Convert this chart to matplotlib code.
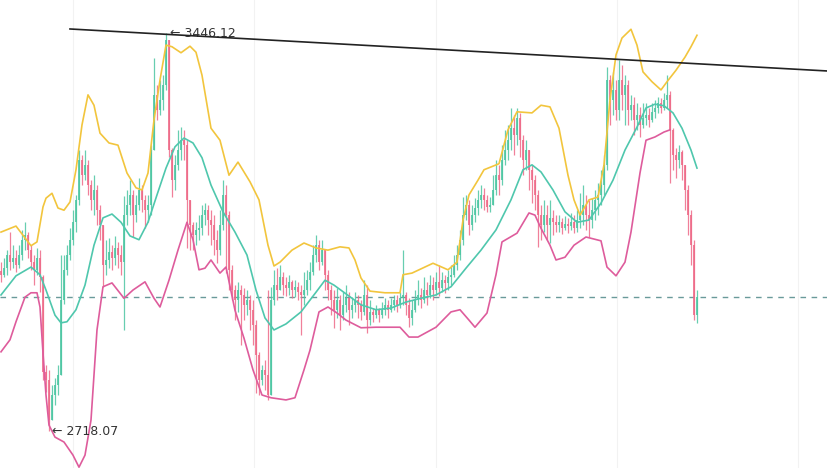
import matplotlib
matplotlib.use("Agg")
import matplotlib.pyplot as plt
import numpy as np

# candle data (price), one candle per bar, open = previous close
first_open = 3010
close = [3004, 3016, 3040, 3027, 3035, 3022, 3040, 3068, 3077, 3049,
         3027, 3013, 3035, 2999, 2826, 2811, 2738, 2784, 2802, 2821,
         2958, 3013, 3040, 3068, 3100, 3141, 3214, 3186, 3205, 3168,
         3141, 3159, 3122, 3095, 3022, 3031, 3045, 3035, 3053, 3040,
         3027, 3113, 3132, 3150, 3113, 3132, 3159, 3141, 3122, 3132,
         3232, 3333, 3305, 3324, 3351, 3433, 3232, 3177, 3205, 3232,
         3250, 3241, 3141, 3095, 3077, 3086, 3089, 3113, 3122, 3104,
         3095, 3068, 3049, 3095, 3150, 3113, 3013, 2976, 2958, 2976,
         2967, 2949, 2958, 2940, 2912, 2857, 2811, 2830, 2821, 2784,
         2958, 2985, 2976, 2999, 2985, 2980, 2991, 2976, 2981, 2972,
         2967, 2976, 2994, 3009, 3040, 3058, 3027, 3049, 3004, 2976,
         2958, 2940, 2958, 2930, 2949, 2961, 2940, 2949, 2958, 2949,
         2936, 2967, 2921, 2936, 2930, 2940, 2930, 2940, 2949, 2940,
         2949, 2958, 2949, 2961, 2967, 2949, 2925, 2940, 2958, 2967,
         2958, 2976, 2967, 2985, 2976, 2991, 2980, 2994, 2989, 2999,
         3004, 3022, 3040, 3068, 3113, 3132, 3095, 3113, 3126, 3141,
         3150, 3141, 3128, 3132, 3159, 3186, 3177, 3214, 3232, 3250,
         3272, 3260, 3290, 3250, 3214, 3232, 3196, 3177, 3150, 3113,
         3095, 3113, 3095, 3107, 3100, 3095, 3100, 3089, 3097, 3093,
         3100, 3089, 3104, 3113, 3132, 3113, 3104, 3122, 3141, 3150,
         3168, 3205, 3360, 3324, 3342, 3305, 3360, 3333, 3351, 3305,
         3314, 3287, 3296, 3278, 3290, 3296, 3287, 3302, 3309, 3318,
         3309, 3324, 3333, 3269, 3223, 3214, 3228, 3205, 3159, 3113,
         3058, 2930, 2963]
high = [3027, 3035, 3049, 3082, 3058, 3049, 3058, 3086, 3100, 3082,
        3058, 3040, 3053, 3049, 3003, 2839, 2830, 2802, 2815, 2839,
        3040, 3040, 3058, 3089, 3122, 3150, 3232, 3223, 3232, 3214,
        3177, 3186, 3168, 3132, 3095, 3068, 3071, 3058, 3075, 3064,
        3058, 3148, 3159, 3177, 3159, 3150, 3181, 3168, 3150, 3150,
        3241, 3401, 3351, 3360, 3369, 3446.12, 3433, 3235, 3223, 3269,
        3274, 3269, 3250, 3141, 3100, 3100, 3113, 3132, 3135, 3132,
        3122, 3113, 3086, 3122, 3177, 3168, 3120, 3022, 2985, 2991,
        2985, 2980, 2976, 2967, 2958, 2921, 2862, 2839, 2848, 2976,
        2981, 3013, 3016, 3022, 3009, 2999, 3004, 2994, 2994, 2991,
        2985, 3009, 3013, 3027, 3058, 3077, 3068, 3068, 3049, 3013,
        2985, 2976, 2980, 2967, 2972, 2985, 2972, 2963, 2972, 2967,
        2958, 2994, 2985, 2958, 2943, 2949, 2943, 2954, 2961, 2958,
        2961, 2967, 2967, 2972, 3049, 2972, 2961, 2958, 2976, 2994,
        2980, 2999, 2991, 3004, 3000, 3009, 3022, 3009, 3004, 3013,
        3022, 3040, 3058, 3086, 3146, 3150, 3141, 3132, 3144, 3159,
        3168, 3163, 3150, 3146, 3186, 3214, 3205, 3241, 3269, 3278,
        3309, 3296, 3309, 3300, 3260, 3250, 3232, 3205, 3186, 3159,
        3132, 3141, 3132, 3141, 3122, 3113, 3113, 3107, 3111, 3107,
        3117, 3113, 3122, 3154, 3168, 3150, 3141, 3144, 3159, 3172,
        3196, 3223, 3384, 3369, 3374, 3360, 3397, 3388, 3369, 3360,
        3333, 3329, 3318, 3311, 3318, 3318, 3309, 3318, 3324, 3329,
        3327, 3336, 3369, 3340, 3272, 3235, 3241, 3232, 3205, 3168,
        3122, 3068, 2976]
low = [2991, 2999, 3004, 3013, 3016, 3009, 3016, 3031, 3049, 3035,
       3013, 2985, 3004, 2972, 2811, 2789, 2718.07, 2738, 2766, 2784,
       2821, 2950, 3004, 3031, 3058, 3082, 3132, 3168, 3177, 3150,
       3122, 3113, 3095, 3068, 2981, 3004, 3016, 3013, 3022, 3016,
       3004, 2903, 3095, 3113, 3073, 3100, 3122, 3118, 3089, 3100,
       3113, 3232, 3287, 3296, 3305, 3342, 3219, 3146, 3159, 3196,
       3214, 3214, 3053, 3049, 3049, 3058, 3068, 3077, 3095, 3077,
       3058, 3040, 3025, 3040, 3086, 3007, 2976, 2958, 2921, 2936,
       2876, 2921, 2930, 2903, 2876, 2788, 2784, 2802, 2793, 2775,
       2784, 2949, 2958, 2976, 2967, 2965, 2967, 2961, 2963, 2958,
       2894, 2949, 2967, 2976, 3004, 3027, 3013, 3022, 2976, 2958,
       2930, 2907, 2925, 2903, 2921, 2936, 2912, 2925, 2936, 2925,
       2921, 2930, 2897, 2912, 2917, 2925, 2917, 2925, 2930, 2925,
       2936, 2940, 2936, 2943, 2949, 2930, 2908, 2912, 2936, 2949,
       2943, 2952, 2949, 2961, 2958, 2967, 2965, 2972, 2970, 2976,
       2985, 2999, 3013, 3031, 3058, 3104, 3077, 3086, 3100, 3113,
       3126, 3122, 3118, 3118, 3132, 3150, 3150, 3168, 3205, 3214,
       3232, 3223, 3241, 3219, 3186, 3196, 3159, 3135, 3122, 3054,
       3068, 3082, 3068, 3062, 3077, 3082, 3082, 3079, 3086, 3080,
       3086, 3080, 3082, 3089, 3095, 3086, 3073, 3089, 3104, 3113,
       3132, 3150, 3196, 3278, 3296, 3287, 3287, 3305, 3278, 3278,
       3287, 3260, 3269, 3256, 3272, 3278, 3274, 3283, 3290, 3300,
       3300, 3305, 3309, 3172, 3196, 3181, 3199, 3177, 3122, 3077,
       3022, 2921, 2915]

# Bollinger bands (candle index, price)
upper_idx = [0, 5, 10, 12, 14, 15, 17, 19, 21, 23, 25, 27, 29, 31, 33, 36, 39, 42, 45, 47,
             49, 51, 53, 55, 57, 60, 63, 65, 67, 70, 73, 76, 79, 83, 86, 89, 91, 93, 97, 101,
             105, 109, 113, 116, 118, 120, 123, 128, 133, 134, 137, 144, 149, 152, 154, 156,
             159, 161, 166, 169, 172, 177, 180, 183, 186, 189, 191, 193, 196, 199, 201, 203,
             205, 207, 210, 212, 214, 217, 220, 222, 225, 228, 230, 232]
upper_val = [3082, 3093, 3057, 3064, 3128, 3144, 3153, 3126, 3122, 3137, 3196, 3278, 3333,
             3314, 3263, 3245, 3241, 3190, 3163, 3159, 3190, 3287, 3360, 3424, 3421, 3410,
             3422, 3411, 3369, 3272, 3250, 3186, 3210, 3174, 3141, 3058, 3020, 3027, 3049,
             3062, 3053, 3049, 3055, 3053, 3031, 2998, 2974, 2971, 2971, 3004, 3007, 3025,
             3013, 3027, 3104, 3150, 3177, 3196, 3207, 3269, 3302, 3300, 3314, 3311, 3272,
             3186, 3141, 3113, 3141, 3146, 3205, 3324, 3406, 3437, 3453, 3424, 3375, 3357,
             3342, 3357, 3378, 3402, 3421, 3442]
mid_idx = [0, 5, 10, 13, 15, 18, 20, 22, 25, 28, 31, 34, 37, 40, 43, 46, 49, 52, 55, 58,
           61, 64, 67, 70, 74, 78, 82, 85, 88, 91, 95, 100, 105, 108, 111, 115, 120, 125,
           130, 135, 140, 145, 150, 155, 160, 165, 170, 174, 177, 180, 184, 188, 192, 196,
           200, 204, 208, 212, 215, 218, 221, 224, 227, 230, 232]
mid_val = [2967, 3002, 3018, 3004, 2976, 2930, 2916, 2918, 2940, 2985, 3058, 3108, 3115,
           3100, 3075, 3068, 3100, 3150, 3199, 3238, 3254, 3245, 3218, 3168, 3119, 3082,
           3040, 2976, 2925, 2903, 2914, 2936, 2972, 2994, 2985, 2969, 2949, 2940, 2943,
           2954, 2961, 2967, 2982, 3016, 3049, 3086, 3141, 3196, 3205, 3192, 3159, 3119,
           3100, 3104, 3135, 3177, 3232, 3274, 3309, 3316, 3313, 3300, 3272, 3232, 3199]
lower_idx = [0, 3, 5, 8, 10, 12, 13, 14, 15, 16, 18, 21, 24, 26, 28, 30, 32, 34, 37, 41,
             44, 48, 51, 53, 56, 59, 62, 64, 66, 68, 70, 73, 75, 78, 81, 84, 87, 90, 95, 98,
             101, 103, 106, 109, 112, 115, 120, 125, 133, 136, 139, 145, 150, 153, 156, 158,
             162, 165, 167, 172, 176, 178, 180, 183, 185, 188, 191, 195, 200, 202, 205, 208,
             210, 213, 215, 218, 221, 223]
lower_val = [2863, 2885, 2918, 2963, 2971, 2971, 2945, 2861, 2784, 2729, 2707, 2698, 2674,
             2652, 2674, 2738, 2903, 2982, 2989, 2961, 2976, 2991, 2961, 2945, 2994, 3049,
             3100, 3068, 3013, 3016, 3031, 3007, 3018, 2939, 2888, 2830, 2784, 2779, 2775,
             2779, 2830, 2866, 2936, 2945, 2934, 2921, 2907, 2908, 2908, 2890, 2890, 2908,
             2936, 2940, 2921, 2908, 2934, 3004, 3064, 3080, 3117, 3113, 3089, 3058, 3031,
             3036, 3058, 3073, 3066, 3018, 3002, 3027, 3082, 3190, 3250, 3256, 3265, 3269]

# trend line through the highs: (candle index, price)
trend_x = [23, 275.7]
trend_y = [3453.5, 3376.6]

UP = "#4cc6a2"
DOWN = "#ee6a88"

close = np.array(close, dtype=float)
high = np.array(high, dtype=float)
low = np.array(low, dtype=float)
opens = np.concatenate([[first_open], close[:-1]])
idx = np.arange(len(close))
colors = np.where(close >= opens, UP, DOWN)

fig = plt.figure(figsize=(8.28, 4.68), dpi=100)
ax = fig.add_axes([0, 0, 1, 1])

# wicks and bodies
ax.vlines(idx, low, high, colors=colors, linewidth=0.9, alpha=0.85, zorder=2)
body_h = np.abs(close - opens)
body_h = np.maximum(body_h, 1.5)
ax.bar(idx, body_h, bottom=np.minimum(close, opens), width=0.6,
       color=colors, alpha=0.85, linewidth=0, zorder=2)

# bands
ax.plot(upper_idx, upper_val, color="#f2c53d", linewidth=1.2, zorder=3)
ax.plot(mid_idx, mid_val, color="#4fc7ad", linewidth=1.2, zorder=3)
ax.plot(lower_idx, lower_val, color="#de5c9c", linewidth=1.2, zorder=3)

# last price and trend line
ax.axhline(close[-1], color="#6a9a9a", linestyle=(0, (4, 4)), linewidth=1, zorder=1)
ax.plot(trend_x, trend_y, color="#222222", linewidth=1.2, zorder=4)

# extremes
hi_i = int(np.argmax(high))
lo_i = int(np.argmin(low))
ax.annotate("\u2190 %.2f" % high[hi_i], xy=(hi_i, high[hi_i]), xytext=(3, 0),
            textcoords="offset points", va="center", ha="left", fontsize=9, color="#333333")
ax.annotate("\u2190 %.2f" % low[lo_i], xy=(lo_i, low[lo_i]), xytext=(2, 0),
            textcoords="offset points", va="center", ha="left", fontsize=9, color="#333333")

ax.set_xlim(-0.33, 275.67)
ax.set_ylim(2650.5, 3506.5)
ax.set_xticks([24, 84.5, 145, 205.3, 265.7])
ax.grid(axis="x", color="#f2f2f2", linewidth=0.8)
ax.set_axisbelow(True)
ax.tick_params(length=0, labelbottom=False, labelleft=False)
for s in ax.spines.values():
    s.set_visible(False)

fig.savefig("out.png", dpi=100)
